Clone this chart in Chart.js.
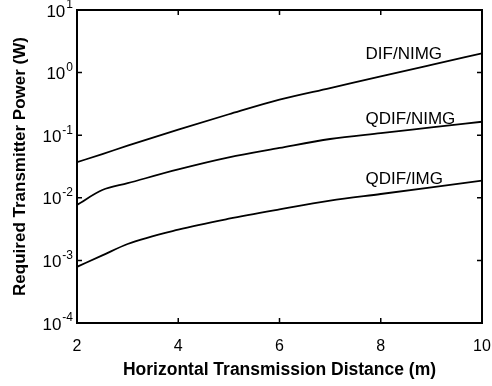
<!DOCTYPE html>
<html>
<head>
<meta charset="utf-8">
<script src="https://cdn.jsdelivr.net/npm/chart.js@4.4.1/dist/chart.umd.min.js"></script>
<style>
  body { margin: 0; background: #fff; }
  canvas { display: block; }
</style>
</head>
<body>
<canvas id="myChart" width="492" height="386"></canvas>
<script>
// distance in metres and required power in watts
const distancia = [2, 2.5, 3, 4, 5, 6, 7, 8, 9, 10];
const difNimg = [0.037, 0.05, 0.068, 0.123, 0.216, 0.37, 0.567, 0.87, 1.33, 2.03];
const qdifNimg = [0.0077, 0.0133, 0.0171, 0.0284, 0.0442, 0.0625, 0.087, 0.108, 0.133, 0.164];
const qdifImg = [0.00079, 0.0012, 0.00183, 0.0031, 0.00463, 0.00653, 0.009, 0.0115, 0.0147, 0.0188];

const nombres = ["DIF/NIMG", "QDIF/NIMG", "QDIF/IMG"];
// where each curve name sits, in data units (x, power)
const etiquetaX = 7.7;
const etiquetaY = [1.98, 0.18, 0.02];

const xTicks = [2, 4, 6, 8, 10];
const yTicks = [10, 1, 0.1, 0.01, 0.001, 0.0001];

const fuente = "'Liberation Sans', Arial, Helvetica, sans-serif";

const ctx = document.getElementById('myChart');

function puntos(valores) {
  return distancia.map((d, i) => ({ x: d, y: valores[i] }));
}

function serie(valores) {
  return {
    data: puntos(valores),
    borderColor: "#000",
    borderWidth: 1.8,
    pointRadius: 0,
    cubicInterpolationMode: "monotone",
    fill: false,
  };
}

const marco = {
  id: "marco",
  afterDraw(chart) {
    const c = chart.ctx;
    const a = chart.chartArea;
    const x = chart.scales.x;
    const y = chart.scales.y;

    c.save();
    c.strokeStyle = "#000";
    c.lineWidth = 2;
    c.strokeRect(a.left, a.top, a.right - a.left, a.bottom - a.top);

    // inward tick marks on all four sides
    c.lineWidth = 1.5;
    c.beginPath();
    xTicks.forEach(v => {
      let px = x.getPixelForValue(v);
      c.moveTo(px, a.bottom); c.lineTo(px, a.bottom - 5);
      c.moveTo(px, a.top); c.lineTo(px, a.top + 5);
    });
    yTicks.forEach(v => {
      let py = y.getPixelForValue(v);
      c.moveTo(a.left, py); c.lineTo(a.left + 5, py);
      c.moveTo(a.right, py); c.lineTo(a.right - 5, py);
    });
    c.stroke();

    // y labels as 10 with a raised exponent
    c.fillStyle = "#000";
    c.textBaseline = "middle";
    c.textAlign = "right";
    yTicks.forEach(v => {
      let py = y.getPixelForValue(v);
      let exp = String(Math.round(Math.log10(v)));
      c.font = "12px " + fuente;
      let ew = c.measureText(exp).width;
      c.fillText(exp, a.left - 4, py - 5);
      c.font = "17px " + fuente;
      c.fillText("10", a.left - 5 - ew, py + 2);
    });

    // curve names
    c.textAlign = "left";
    c.font = "17px " + fuente;
    nombres.forEach((n, i) => {
      c.fillText(n, x.getPixelForValue(etiquetaX), y.getPixelForValue(etiquetaY[i]));
    });
    c.restore();
  }
};

new Chart(ctx, {
  type: "line",
  data: {
    datasets: [serie(difNimg), serie(qdifNimg), serie(qdifImg)]
  },
  options: {
    responsive: false,
    animation: false,
    layout: { padding: { top: 10, right: 10 } },
    plugins: {
      legend: { display: false },
      tooltip: { enabled: false }
    },
    scales: {
      x: {
        type: "linear",
        min: 2,
        max: 10,
        grid: { display: false },
        border: { display: false },
        afterBuildTicks: s => { s.ticks = xTicks.map(v => ({ value: v })); },
        afterFit: s => {
          s.height = 63;
          s.paddingLeft = 0;
          s.paddingRight = 0;
        },
        ticks: {
          color: "#000",
          font: { size: 16, family: fuente },
          padding: 6,
          maxRotation: 0,
          autoSkip: false
        },
        title: {
          display: true,
          text: "Horizontal Transmission Distance (m)",
          color: "#000",
          font: { size: 17.5, weight: "bold", family: fuente },
          padding: { top: 0, bottom: 5 }
        }
      },
      y: {
        type: "logarithmic",
        min: 0.0001,
        max: 10,
        grid: { display: false },
        border: { display: false },
        afterBuildTicks: s => { s.ticks = yTicks.map(v => ({ value: v })); },
        afterFit: s => { s.width = 77; },
        ticks: { display: false },
        title: {
          display: true,
          text: "Required Transmitter Power (W)",
          color: "#000",
          font: { size: 17, weight: "bold", family: fuente },
          padding: { top: 10, bottom: 0 }
        }
      }
    }
  },
  plugins: [marco]
});
</script>
</body>
</html>
